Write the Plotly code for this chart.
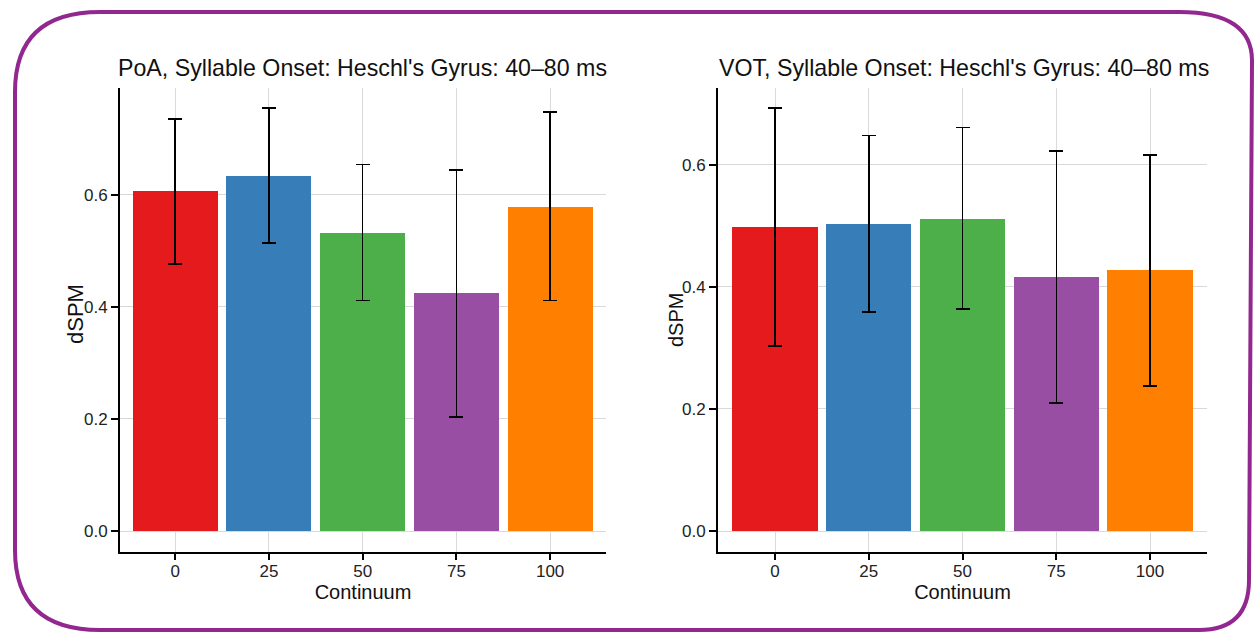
import plotly.graph_objects as go

W, H = 1255, 633

categories = [0, 25, 50, 75, 100]
colors = ["#e41a1c", "#377eb8", "#4daf4a", "#984ea3", "#ff7f00"]

poa_mean = [0.607, 0.634, 0.532, 0.425, 0.579]
poa_upper = [0.736, 0.755, 0.654, 0.645, 0.748]
poa_lower = [0.477, 0.514, 0.412, 0.204, 0.412]

vot_mean = [0.498, 0.503, 0.511, 0.416, 0.428]
vot_upper = [0.693, 0.648, 0.661, 0.623, 0.616]
vot_lower = [0.303, 0.359, 0.364, 0.210, 0.238]

titles = ["PoA, Syllable Onset: Heschl's Gyrus: 40–80 ms",
          "VOT, Syllable Onset: Heschl's Gyrus: 40–80 ms"]
y_ticks = [0.0, 0.2, 0.4, 0.6]
y_ticktext = ["0.0", "0.2", "0.4", "0.6"]

FONT = "Liberation Sans, Arial, Helvetica, sans-serif"

fig = go.Figure()

def add_bars(mean, upper, lower, xa, ya):
    fig.add_trace(go.Bar(
        x=categories, y=mean, marker=dict(color=colors, line=dict(width=0)),
        width=22.7,
        error_y=dict(type="data", symmetric=False,
                     array=[u - m for u, m in zip(upper, mean)],
                     arrayminus=[m - l for m, l in zip(mean, lower)],
                     color="black", thickness=1.5, width=7),
        xaxis=xa, yaxis=ya, showlegend=False))

add_bars(poa_mean, poa_upper, poa_lower, "x", "y")
add_bars(vot_mean, vot_upper, vot_lower, "x2", "y2")

def px_x(p):
    return p / W

def px_y(p):
    return 1 - p / H

ydom = [px_y(552), px_y(88)]

common_x = dict(
    tickvals=categories, ticktext=[str(c) for c in categories],
    showgrid=True, gridcolor="#d9d9d9", gridwidth=1,
    showline=True, linecolor="black", linewidth=2,
    ticks="outside", ticklen=6, tickcolor="black", tickwidth=1.5,
    ticklabelstandoff=-3,
    tickfont=dict(size=17, color="#222", family=FONT),
    title=dict(text="Continuum", font=dict(size=20, color="#111", family=FONT), standoff=1),
    zeroline=False, fixedrange=True,
)
common_y = dict(
    tickvals=y_ticks, ticktext=y_ticktext,
    showgrid=True, gridcolor="#d9d9d9", gridwidth=1,
    showline=True, linecolor="black", linewidth=2,
    ticks="outside", ticklen=7, tickcolor="black", tickwidth=1.5,
    tickfont=dict(size=17, color="#222", family=FONT),
    zeroline=False, fixedrange=True,
)

fig.update_layout(
    width=W, height=H, autosize=False,
    margin=dict(l=0, r=0, t=0, b=0),
    paper_bgcolor="white", plot_bgcolor="white",
    font=dict(family=FONT, color="black"),
    bargap=0,
    xaxis=dict(common_x, domain=[px_x(120), px_x(606)], range=[-14.7, 114.9], anchor="y"),
    yaxis=dict(common_y, domain=ydom, range=[-0.0375, 0.791], anchor="x"),
    xaxis2=dict(common_x, domain=[px_x(718), px_x(1207)], range=[-15.2, 115.2], anchor="y2"),
    yaxis2=dict(common_y, domain=ydom, range=[-0.0344, 0.726], anchor="x2"),
)

for t, xp in zip(titles, [116, 717]):
    fig.add_annotation(text=t, x=px_x(xp), y=px_y(83), xref="paper", yref="paper",
                       xanchor="left", yanchor="bottom", showarrow=False,
                       font=dict(size=23.2, color="#111", family=FONT))

for xp, yp, fs in [(75, 314, 22), (676, 320, 20)]:
    fig.add_annotation(text="dSPM", x=px_x(xp), y=px_y(yp), xref="paper", yref="paper",
                       xanchor="center", yanchor="middle", showarrow=False, textangle=-90,
                       font=dict(size=fs, color="#111", family=FONT))

# rounded purple border
L, T, R, B = 15, 12, 1249, 630
def P(x, y):
    return f"{px_x(x):.5f},{px_y(y):.5f}"
path = (f"M {P(L, T + 80)} Q {P(L, T)} {P(L + 85, T)} "
        f"L {P(R - 70, T)} Q {P(R + 4, T)} {P(R + 3, T + 50)} "
        f"L {P(R, B - 50)} Q {P(R, B)} {P(R - 50, B)} "
        f"L {P(L + 85, B)} Q {P(L, B)} {P(L, B - 80)} Z")
fig.add_shape(type="path", path=path, xref="paper", yref="paper",
              line=dict(color="#92278f", width=4), fillcolor="rgba(0,0,0,0)", layer="above")

fig.write_html("out.html", config={"displayModeBar": False},
               post_script="document.body.style.margin='0';document.body.style.overflow='hidden';")
